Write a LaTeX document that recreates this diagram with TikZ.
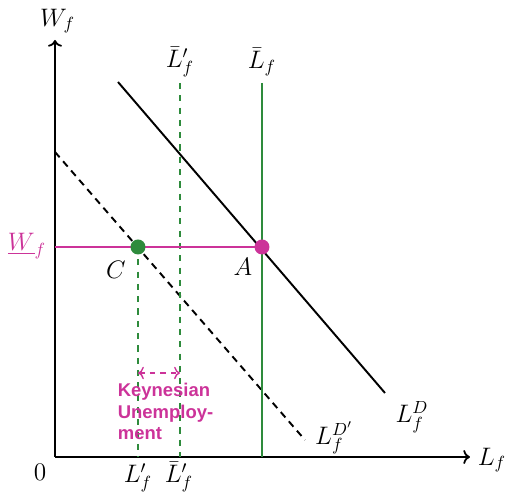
\documentclass[tikz,border=0pt]{standalone}
\usepackage{fontspec}
\newfontfamily\notesans{Liberation Sans}
\usepackage{tikz}
\usetikzlibrary{calc,arrows.meta,positioning}
\definecolor{wageMagenta}{HTML}{CC3399}
\definecolor{laborGreen}{HTML}{2E8B3C}

\begin{document}
\begin{tikzpicture}[scale=1,
    axisline/.style={line width=1pt,->},
    eqdot/.style={circle,inner sep=0pt,minimum size=0.3cm},
    lbl/.style={font=\Large, inner sep=1pt}]
        \useasboundingbox (-1.1,-0.74) rectangle (9.02,9.14);
        % axes
        \coordinate (O) at (0,0);
        \coordinate (xend) at (8.3,0);
        \coordinate (yend) at (0,8.34);
        \draw[axisline] (O) -- (xend);
        \draw[axisline] (O) -- (yend);
        \node[lbl] (wlab) at (0.05,8.72) {$W_f$};
        \node[lbl] (llab) at (8.74,-0.06) {$L_f$};
        \node[lbl] (zero) at (-0.3,-0.3) {$0$};
        % labour demand curves
        \coordinate (dtop) at (1.26,7.5);
        \coordinate (dbot) at (6.6,1.28);
        \draw[line width=1.1pt] (dtop) -- (dbot);
        \coordinate (dptop) at (0,6.1);
        \coordinate (dpbot) at (5.0,0.34);
        \draw[line width=1.1pt, dash pattern=on 4pt off 3pt] (dptop) -- (dpbot);
        \node[lbl] (ldlab) at (7.14,0.8) {$L_f^D$};
        \node[lbl] (ldplab) at (5.58,0.38) {$L_f^{D'}$};
        % labour supply
        \coordinate (lbtop) at (4.14,7.48);
        \coordinate (lbbot) at (4.14,0);
        \draw[laborGreen, line width=0.8pt] (lbtop) -- (lbbot);
        \node[lbl] (lblab) at (4.14,7.9) {$\bar{L}_f$};
        \coordinate (lbptop) at (2.5,7.48);
        \coordinate (lbpbot) at (2.5,0);
        \draw[laborGreen, line width=0.8pt, dash pattern=on 3.5pt off 3.5pt] (lbptop) -- (lbpbot);
        \node[lbl] (lbplab) at (2.5,7.9) {$\bar{L}'_f$};
        \node[lbl] (lbplow) at (2.48,-0.4) {$\bar{L}'_f$};
        % wage floor
        \coordinate (wleft) at (0,4.2);
        \node[lbl, wageMagenta] (wflab) at (-0.56,4.22) {$\underline{W}_f$};
        \node[eqdot] (A) at (4.14,4.2) {};
        \node[eqdot] (C) at (1.66,4.2) {};
        \coordinate (cbot) at (1.66,0);
        \draw[wageMagenta, line width=0.8pt] (wleft) -- (A.center);
        \draw[laborGreen, line width=0.8pt, dash pattern=on 3.5pt off 3.5pt] (C.center) -- (cbot);
        \node[eqdot, fill=wageMagenta] at (A) {};
        \node[eqdot, fill=laborGreen] at (C) {};
        \node[lbl] (alab) at (3.76,3.8) {$A$};
        \node[lbl] (clab) at (1.22,3.74) {$C$};
        \node[lbl] (lplow) at (1.66,-0.42) {$L'_f$};
        % keynesian unemployment
        \coordinate (ku1) at (1.66,1.68);
        \coordinate (ku2) at (2.5,1.68);
        \draw[wageMagenta, line width=0.8pt, dashed, <->] (ku1) -- (ku2);
        \node[wageMagenta, anchor=north west, align=left, inner sep=0pt,
              font=\notesans\bfseries\fontsize{10.5}{12.3}\selectfont] (kutext) at (1.25,1.48)
              {Keynesian\\Unemploy-\\ment};
    \end{tikzpicture}
\end{document}
